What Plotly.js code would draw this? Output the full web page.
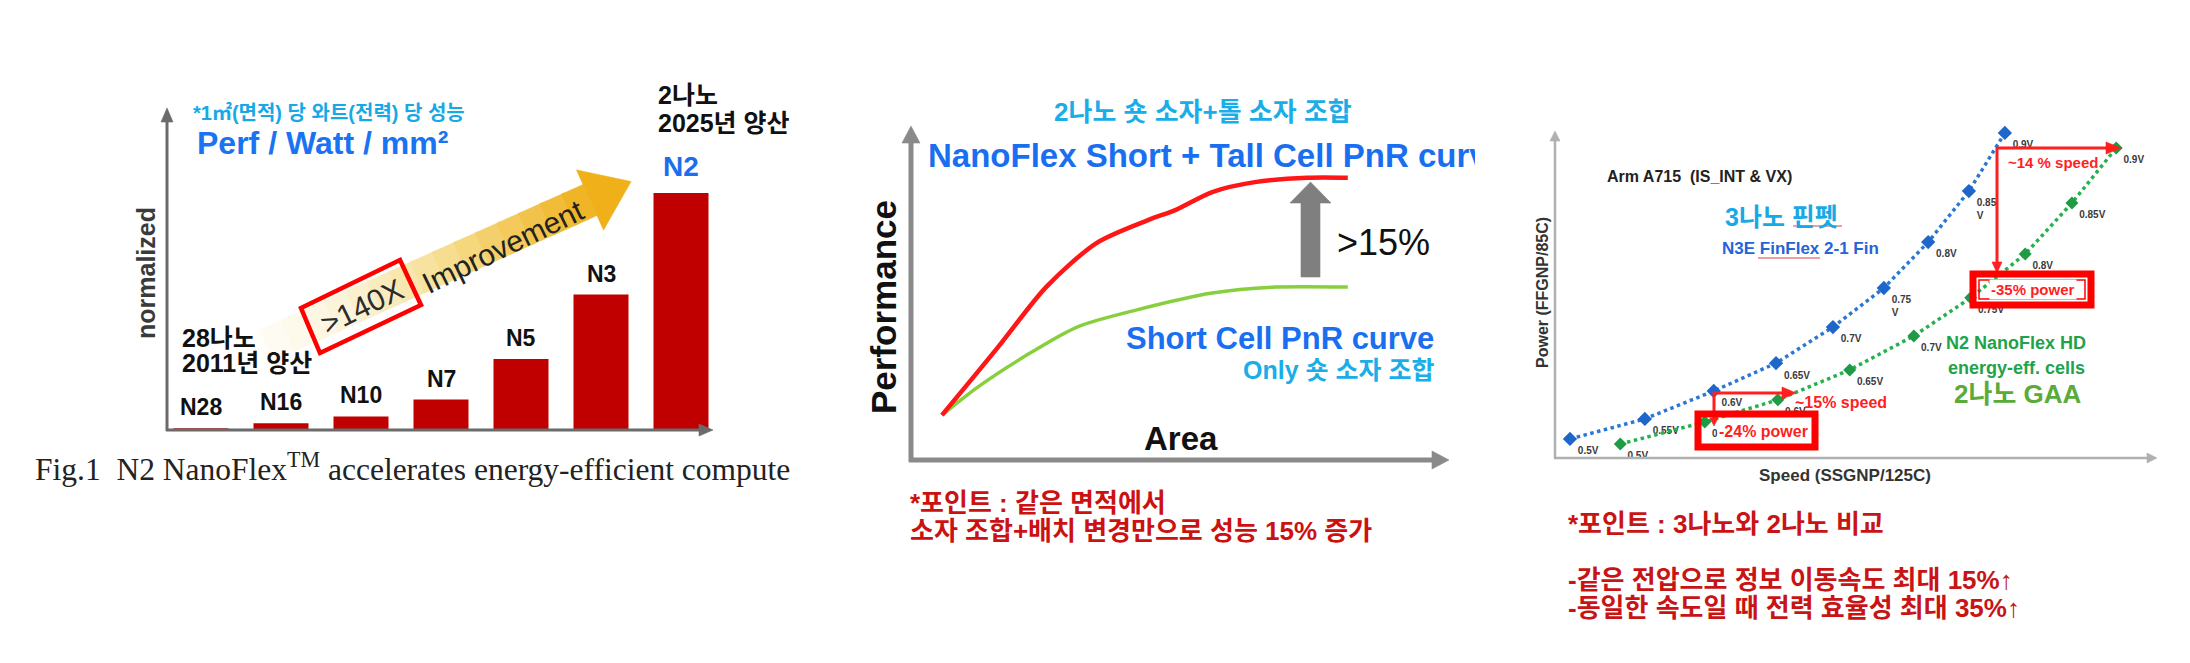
<!DOCTYPE html>
<html><head><meta charset="utf-8">
<script src="https://cdn.plot.ly/plotly-3.0.1.min.js"></script>
<style>html,body{margin:0;padding:0;background:#fff;} #chart{width:2190px;height:663px;}</style>
</head><body><div id="chart"></div>
<script>
// ---------------- data ----------------
const nodes = ['N28','N16','N10','N7','N5','N3','N2'];
const perfPerWatt = [1, 4, 8, 18, 42, 80, 140];

const areaTall = [5.8, 16.3, 25.3, 34.8, 44.4, 49.6, 56.4, 64.4, 74.2, 81.8];
const perfTall = [13.6, 34.2, 52.4, 65.8, 72.7, 75.8, 81.2, 84.2, 85.5, 85.5];
const areaShort = [5.8, 12.5, 22.3, 31.1, 42.3, 56.4, 68.2, 81.8];
const perfShort = [13.6, 22.1, 32.4, 40.3, 45.5, 50.6, 52.4, 52.4];

const voltN3E = ['0.5V','0.55V','0.6V','0.65V','0.7V','0.75<br>V','0.8V','0.85<br>V','0.9V'];
const speedN3E = [2.5, 15.0, 26.5, 36.9, 46.4, 54.9, 62.3, 69.1, 75.1];
const powerN3E = [5.6, 11.5, 19.7, 27.9, 38.5, 50.0, 63.5, 78.5, 95.6];
const voltN2 = ['0.5V','0.55V','0.6V','0.65V','0.7V','0.75V','0.8V','0.85V','0.9V'];
const speedN2 = [10.9, 25.0, 37.2, 49.2, 59.9, 69.4, 78.5, 86.3, 93.7];
const powerN2 = [4.1, 10.6, 17.1, 25.9, 35.9, 47.1, 60.0, 75.0, 91.2];

// ---------------- helpers ----------------
const W = 2190, H = 663;
const px = x => x / W;
const py = y => 1 - y / H;
const SANS = "'Liberation Sans', Arial, 'Noto Sans CJK KR', sans-serif";
const SERIF = "'Liberation Serif', 'Times New Roman', serif";

function path(points, close) {
  return 'M' + points.map(p => px(p[0]).toFixed(5) + ',' + py(p[1]).toFixed(5)).join('L') + (close ? 'Z' : '');
}
function poly(points, fill, layer) {
  return {type:'path', xref:'paper', yref:'paper', path: path(points, true),
          fillcolor: fill, line:{color: fill, width: 0.6}, layer: layer || 'above'};
}
function seg(x0, y0, x1, y1, color, width) {
  return {type:'line', xref:'paper', yref:'paper', x0:px(x0), y0:py(y0), x1:px(x1), y1:py(y1),
          line:{color, width}, layer:'above'};
}
function head(tx, ty, dx, dy, L, hw, color) {
  const n = [-dy, dx];
  const bx = tx - L*dx, by = ty - L*dy;
  return poly([[tx,ty],[bx+hw*n[0], by+hw*n[1]],[bx-hw*n[0], by-hw*n[1]]], color);
}
function rect(x0, y0, x1, y1, color, width, fill) {
  return {type:'rect', xref:'paper', yref:'paper', x0:px(x0), y0:py(y0), x1:px(x1), y1:py(y1),
          line:{color, width}, fillcolor: fill || 'rgba(0,0,0,0)', layer:'above'};
}
function T(text, x, y, size, color, o) {
  o = o || {};
  const a = {text, x:px(x), y:py(y), xref:'paper', yref:'paper', showarrow:false,
    xanchor:o.xa || 'center', yanchor:o.ya || 'middle', textangle:o.angle || 0,
    font:{family:o.fam || SANS, size, color, weight:o.w || 'bold'}};
  if (o.width) { a.width = o.width; a.align = o.align || 'left'; }
  if (o.bg) a.bgcolor = o.bg;
  return a;
}
function hex(c){return [parseInt(c.slice(1,3),16),parseInt(c.slice(3,5),16),parseInt(c.slice(5,7),16)];}
function gradColor(stops, t) {
  for (let i = 0; i < stops.length-1; i++) {
    const [t0,c0] = stops[i], [t1,c1] = stops[i+1];
    if (t <= t1) {
      const f = (t - t0)/(t1 - t0), a = hex(c0), b = hex(c1);
      return 'rgb(' + a.map((v,k)=>Math.round(v + (b[k]-v)*f)).join(',') + ')';
    }
  }
  return stops[stops.length-1][1];
}

// ---------------- traces ----------------
const traces = [
  {type:'bar', x:nodes, y:perfPerWatt, xaxis:'x', yaxis:'y',
   marker:{color:'#c00000'}, hoverinfo:'skip'},
  {type:'scatter', mode:'lines', x:areaShort, y:perfShort, xaxis:'x2', yaxis:'y2',
   line:{color:'#88cf3e', width:3.5, shape:'spline', smoothing:0.8}, hoverinfo:'skip'},
  {type:'scatter', mode:'lines', x:areaTall, y:perfTall, xaxis:'x2', yaxis:'y2',
   line:{color:'#ff1616', width:4.5, shape:'spline', smoothing:0.8}, hoverinfo:'skip'},
  {type:'scatter', mode:'lines+markers+text', x:speedN3E, y:powerN3E, text:voltN3E,
   xaxis:'x3', yaxis:'y3', cliponaxis:false, textposition:'bottom right',
   textfont:{family:SANS, size:10, color:'#3a3a3a', weight:'bold'},
   marker:{symbol:'diamond', size:11, color:'#1e66c9'},
   line:{color:'#2b78d4', width:3.5, dash:'dot'}, hoverinfo:'skip'},
  {type:'scatter', mode:'lines+markers+text', x:speedN2, y:powerN2, text:voltN2,
   xaxis:'x3', yaxis:'y3', cliponaxis:false, textposition:'bottom right',
   textfont:{family:SANS, size:10, color:'#3a3a3a', weight:'bold'},
   marker:{symbol:'diamond', size:10, color:'#1f9a45'},
   line:{color:'#25b24c', width:3.5, dash:'dot'}, hoverinfo:'skip'}
];

// ---------------- shapes ----------------
const shapes = [];
// panel 1 gradient arrow
const Tl = [245, 355], Bh = [590, 200];
const len = Math.hypot(Bh[0]-Tl[0], Bh[1]-Tl[1]);
const u = [(Bh[0]-Tl[0])/len, (Bh[1]-Tl[1])/len];
const nrm = [-u[1], u[0]];
const hw = 17, N = 16;
const stops = [[0,'#ffffff'],[0.3,'#fbf3d8'],[0.6,'#f6dd8e'],[1,'#efb21e']];
for (let k = 0; k < N; k++) {
  const t0 = k/N, t1 = Math.min(1,(k+1)/N + 0.01);
  const A = [Tl[0]+t0*(Bh[0]-Tl[0]), Tl[1]+t0*(Bh[1]-Tl[1])];
  const B = [Tl[0]+t1*(Bh[0]-Tl[0]), Tl[1]+t1*(Bh[1]-Tl[1])];
  const c = gradColor(stops, (k+0.5)/N);
  shapes.push(poly([[A[0]-hw*nrm[0],A[1]-hw*nrm[1]],[B[0]-hw*nrm[0],B[1]-hw*nrm[1]],
                    [B[0]+hw*nrm[0],B[1]+hw*nrm[1]],[A[0]+hw*nrm[0],A[1]+hw*nrm[1]]], c, 'below'));
}
shapes.push(poly([[Bh[0]-33*nrm[0],Bh[1]-33*nrm[1]],[Bh[0]+45*u[0],Bh[1]+45*u[1]],
                  [Bh[0]+33*nrm[0],Bh[1]+33*nrm[1]]], '#efb01a', 'below'));
// red box around >140X
shapes.push({type:'path', xref:'paper', yref:'paper', layer:'above',
  path:path([[301,308],[400,260],[421,305],[320,353]], true),
  line:{color:'#ff0000', width:4.5}, fillcolor:'rgba(0,0,0,0)'});
// panel 1 axes
shapes.push(seg(167,431,167,120,'#6b6b6b',3), head(167,108,0,-1,14,6,'#6b6b6b'));
shapes.push(seg(166,430,700,430,'#6b6b6b',3), head(713,430,1,0,14,6,'#6b6b6b'));
// panel 2 axes
shapes.push(seg(911,462,911,142,'#8a8a8a',5), head(911,126,0,-1,17,9,'#8a8a8a'));
shapes.push(seg(909,460,1432,460,'#8a8a8a',5), head(1449,460,1,0,17,9,'#8a8a8a'));
// panel 2 grey up arrow
shapes.push(poly([[1301,277],[1320,277],[1320,203],[1331,203],[1310.5,182],[1290,203],[1301,203]], '#7f7f7f'));
// panel 3 axes
shapes.push(seg(1555,459,1555,140,'#b0b0b0',2.5), head(1555,131,0,-1,10,5,'#b0b0b0'));
shapes.push(seg(1554,458,2148,458,'#b0b0b0',2.5), head(2157,458,1,0,10,5,'#b0b0b0'));
// panel 3 red callouts
const RED = '#ff1f1f';
shapes.push(seg(1997,148,2106,148,RED,3), head(2121,148,1,0,15,6,RED));
shapes.push(seg(1997,147,1997,262,RED,3), head(1997,273,0,1,11,5,RED));
shapes.push(seg(1714,393,1782,393,RED,3), head(1796,393,1,0,14,6,RED));
shapes.push(seg(1714,392,1714,418,RED,3), head(1714,426,0,1,8,4,RED));
shapes.push(rect(1698,414,1815,447,'#ff0000',7));
shapes.push(rect(1973,274,2091,305,'#ff0000',7));
shapes.push(rect(1979,280,2085,299,'#ff0000',1.5));
// spell-check style underlines in panel 3
shapes.push(seg(1793,226,1842,226,'#e04040',1.2));
shapes.push(seg(1758,258,1820,258,'#e04040',1.2));

// ---------------- annotations ----------------
const ann = [];
// bar labels from data
nodes.forEach((n, i) => {
  const last = i === nodes.length - 1;
  ann.push({x:n, y:perfPerWatt[i], xref:'x', yref:'y', text:n, showarrow:false,
    yanchor:'middle', yshift: last ? 26 : 21,
    font:{family:SANS, size: last ? 28 : 23, color: last ? '#1a6ff0' : '#111', weight:'bold'}});
});
// panel 1 text
ann.push(T('normalized', 146, 273, 25, '#3a3a3a', {angle:-90}));
ann.push(T('*1㎡(면적) 당 와트(전력) 당 성능', 191, 113, 20, '#17a9e6', {xa:'left'}));
ann.push(T('Perf / Watt / mm²', 195, 143, 32, '#1a73f0', {xa:'left'}));
ann.push(T('2나노', 656, 95, 25, '#111', {xa:'left'}));
ann.push(T('2025년 양산', 656, 123, 25, '#111', {xa:'left'}));
ann.push(T('28나노', 180, 338, 25, '#111', {xa:'left'}));
ann.push(T('2011년 양산', 180, 363, 25, '#111', {xa:'left'}));
ann.push(T('&gt;140X', 362, 306, 30, '#2b2b2b', {angle:-26, w:'normal'}));
ann.push(T('Improvement', 503, 246, 30, '#222', {angle:-26, w:'normal'}));
ann.push(T('Fig.1  N2 NanoFlex<sup>TM</sup> accelerates energy-efficient compute', 33, 467, 31.5, '#222',
  {xa:'left', fam:SERIF, w:'normal'}));
// panel 2 text
ann.push(T('2나노 숏 소자+톨 소자 조합', 1203, 112, 26, '#19aee8'));
ann.push(T('NanoFlex Short + Tall Cell\u00a0PnR curve', 926, 155, 33, '#1a6ff0', {xa:'left', width:547}));
ann.push(T('&gt;15%', 1383, 242, 36, '#111', {w:'normal'}));
ann.push(T('Performance', 883, 307, 35, '#111', {angle:-90}));
ann.push(T('Area', 1181, 438, 33, '#111'));
ann.push(T('Short Cell PnR curve', 1436, 338, 31, '#1a6ff0', {xa:'right'}));
ann.push(T('Only 숏 소자 조합', 1436, 370, 25, '#19aee8', {xa:'right'}));
ann.push(T('*포인트 : 같은 면적에서', 908, 503, 26, '#cc1111', {xa:'left'}));
ann.push(T('소자 조합+배치 변경만으로 성능 15% 증가', 908, 531, 26, '#cc1111', {xa:'left'}));
// panel 3 text
ann.push(T('Power (FFGNP/85C)', 1542, 293, 16, '#333', {angle:-90}));
ann.push(T('Speed (SSGNP/125C)', 1845, 475, 17, '#333'));
ann.push(T('Arm A715  (IS_INT &amp; VX)', 1605, 177, 16, '#222', {xa:'left'}));
ann.push(T('3나노 핀펫', 1781, 217, 25, '#17a9e6'));
ann.push(T('N3E FinFlex 2-1 Fin', 1800, 248, 17, '#2563d9'));
ann.push(T('~14 % speed', 2006, 162, 15, RED, {xa:'left'}));
ann.push(T('-35% power', 2033, 289, 15, RED, {bg:'#ffffff'}));
ann.push(T('~15% speed', 1793, 403, 16, RED, {xa:'left'}));
ann.push(T('-24% power', 1763, 431, 16, RED, {bg:'#ffffff'}));
ann.push(T('N2 NanoFlex HD', 2016, 343, 18, '#1fa34a'));
ann.push(T('energy-eff. cells', 2016, 368, 18, '#1fa34a'));
ann.push(T('2나노 GAA', 2018, 394, 26, '#5aab3a'));
ann.push(T('*포인트 : 3나노와 2나노 비교', 1566, 524, 26, '#c81414', {xa:'left'}));
ann.push(T('-같은 전압으로 정보 이동속도 최대 15%↑', 1566, 580, 26, '#c81414', {xa:'left'}));
ann.push(T('-동일한 속도일 때 전력 효율성 최대 35%↑', 1566, 608, 26, '#c81414', {xa:'left'}));

const layout = {
  width: W, height: H, margin:{l:0, r:0, t:0, b:0},
  paper_bgcolor:'#ffffff', plot_bgcolor:'rgba(0,0,0,0)', showlegend:false,
  bargap: 0.3125,
  xaxis:{domain:[px(161), px(721)], type:'category', range:[-0.5, 6.5], visible:false, fixedrange:true},
  yaxis:{domain:[py(430), py(176)], range:[0, 150], visible:false, fixedrange:true},
  xaxis2:{domain:[px(911), px(1445)], anchor:'y2', range:[0, 100], visible:false},
  yaxis2:{domain:[py(460), py(130)], anchor:'x2', range:[0, 100], visible:false},
  xaxis3:{domain:[px(1555), px(2154)], anchor:'y3', range:[0, 100], visible:false},
  yaxis3:{domain:[py(458), py(118)], anchor:'x3', range:[0, 100], visible:false},
  shapes, annotations: ann
};
Plotly.newPlot('chart', traces, layout, {staticPlot:true, displayModeBar:false});
</script></body></html>
